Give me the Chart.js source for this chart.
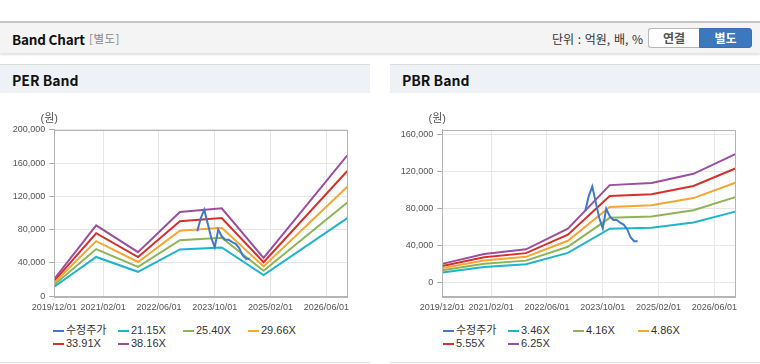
<!DOCTYPE html>
<html><head><meta charset="utf-8">
<script src="https://cdn.jsdelivr.net/npm/chart.js@4/dist/chart.umd.min.js"></script>
<style>
html,body{margin:0;padding:0;background:#fff;width:760px;height:364px;overflow:hidden;font-family:"Liberation Sans","Noto Sans CJK KR",sans-serif;}
#hdr{position:absolute;left:0;top:21px;width:760px;height:30px;background:#f4f4f4;border-top:2px solid #c4c4c4;box-shadow:0 2px 2px rgba(0,0,0,0.12);}
#title{position:absolute;left:12px;top:6px;font:bold 13.5px "Noto Sans CJK KR",sans-serif;color:#111;letter-spacing:-0.2px;}
#sub{position:absolute;left:89px;top:7px;font:11.5px "Noto Sans CJK KR",sans-serif;color:#888;letter-spacing:0.5px;}
#unit{position:absolute;left:552px;top:7px;font:12px "Noto Sans CJK KR",sans-serif;color:#333;word-spacing:1px;}
.btn{position:absolute;top:5px;height:18px;line-height:18px;text-align:center;font:bold 12px "Noto Sans CJK KR",sans-serif;}
#b1{left:648px;width:50px;background:#fff;border:1px solid #b8b8b8;border-right:none;border-radius:3px 0 0 3px;color:#555;}
#b2{left:699px;width:51px;background:#3b78bd;border:1px solid #3b6fae;border-radius:0 3px 3px 0;color:#fff;}
.panel{position:absolute;top:64px;width:370px;height:297px;border-top:1px solid #dcdcdc;border-bottom:1px solid #dcdcdc;}
.ph{position:absolute;left:0;top:0;width:370px;height:28px;background:#eef1f6;}
.pt{position:absolute;left:12px;top:5px;font:bold 14px "Noto Sans CJK KR",sans-serif;color:#111;}
.cw{position:absolute;left:0;top:36px;width:370px;height:220px;}
.lg{position:absolute;top:259px;display:grid;grid-template-columns:65px 65px 65px 65px;row-gap:0px;font:11px "Liberation Sans","Noto Sans CJK KR",sans-serif;color:#333;}
.li{height:13.3px;line-height:13.3px;white-space:nowrap;display:flex;align-items:center;}
.mk{display:inline-block;width:11px;height:2px;margin-right:2.5px;}
</style></head>
<body>
<div id="hdr">
  <div id="title">Band Chart</div>
  <div id="sub">[별도]</div>
  <div id="unit">단위 : 억원, 배, %</div>
  <div class="btn" id="b1">연결</div>
  <div class="btn" id="b2">별도</div>
</div>
<div class="panel" style="left:0">
  <div class="ph"><div class="pt">PER Band</div></div>
  <div class="cw"><canvas id="per" width="370" height="220"></canvas></div>
  <div class="lg" id="perLg" style="left:52.5px"></div>
</div>
<div class="panel" style="left:390px">
  <div class="ph"><div class="pt">PBR Band</div></div>
  <div class="cw"><canvas id="pbr" width="370" height="220"></canvas></div>
  <div class="lg" id="pbrLg" style="left:52.5px"></div>
</div>
<script>
// ---- data ----
const xTickLabels = ["2019/12/01","2021/02/01","2022/06/01","2023/10/01","2025/02/01","2026/06/01"];
const xStart = "2019/12", xEnd = "2026/12";

const priceName = "수정주가";
const priceMonths = ["2023/05","2023/06","2023/07","2023/08","2023/09","2023/10","2023/11","2023/12","2024/01","2024/02","2024/03","2024/04","2024/05","2024/06","2024/07","2024/08"];
const priceValues = [78000,94000,104000,87000,70000,59000,80000,72000,68000,68000,65000,63000,58000,49000,45000,45000];

const perMonths = ["2019/12","2020/12","2021/12","2022/12","2023/12","2024/12","2026/12"];
const perNames = ["21.15X","25.40X","29.66X","33.91X","38.16X"];
const per2115 = [11500,47200,29400,56200,58600,25500,93800];
const per2540 = [13800,56700,35300,67400,70400,30700,112600];
const per2966 = [16200,66200,41200,78700,82200,35800,131500];
const per3391 = [18500,75700,47100,90000,93900,40900,150400];
const per3816 = [20800,85200,53000,101300,105700,46100,169200];
const perYTicks = [0,40000,80000,120000,160000,200000];

const pbrMonths = ["2019/12","2020/12","2021/12","2022/12","2023/12","2024/12","2025/12","2026/12"];
const pbrNames = ["3.46X","4.16X","4.86X","5.55X","6.25X"];
const pbr346 = [11400,17300,20100,32400,58500,59700,65200,77000];
const pbr416 = [13700,20800,24100,39000,70300,71800,78400,92600];
const pbr486 = [16000,24300,28200,45500,82100,83800,91600,108100];
const pbr555 = [18300,27800,32200,52000,93800,95700,104600,123500];
const pbr625 = [20600,31300,36300,58600,105600,107800,117800,139100];
const pbrYTicks = [0,40000,80000,120000,160000];

const colors = ["#3f78cc","#1eb4c9","#8db454","#f5a532","#d6302b","#9a4f9e"];

// ---- helpers ----
function mIdx(s){const [y,m]=s.split("/").map(Number);return (y-2019)*12+(m-12);}
function pts(months,vals){return months.map((m,i)=>({x:mIdx(m),y:vals[i]}));}
const xTickVals = xTickLabels.map(l=>mIdx(l.slice(0,7)));

const framePlugin = {
  id:'frame',
  afterDraw(chart){
    const {ctx,chartArea:a}=chart;
    ctx.save();
    ctx.strokeStyle='#b4b4b4';ctx.lineWidth=1;
    ctx.strokeRect(Math.round(a.left)+0.5,Math.round(a.top)+0.5,Math.round(a.right-a.left),Math.round(a.bottom-a.top));
    ctx.fillStyle='#555';ctx.font='11px "Liberation Sans","Noto Sans CJK KR"';
    ctx.textAlign='center';ctx.textBaseline='middle';
    ctx.fillText('(원)',a.left-5,a.top-10.5);
    ctx.restore();
  }
};

function makeChart(id,bandMonths,bands,names,yMin,yMax,yTicks,axisW){
  const datasets=[{label:priceName,data:pts(priceMonths,priceValues),borderColor:colors[0],backgroundColor:colors[0]}];
  bands.forEach((b,i)=>datasets.push({label:names[i],data:pts(bandMonths,b),borderColor:colors[i+1],backgroundColor:colors[i+1]}));
  datasets[0].order=-1;
  const chart=new Chart(document.getElementById(id),{
    type:'line',
    data:{datasets},
    plugins:[framePlugin],
    options:{
      responsive:false,animation:false,
      layout:{padding:{left:0,right:370-axisW-293,top:28.7,bottom:0}},
      elements:{point:{radius:0},line:{borderWidth:2,tension:0}},
      plugins:{legend:{display:false},tooltip:{enabled:false}},
      scales:{
        x:{type:'linear',min:mIdx(xStart),max:mIdx(xEnd),
          afterBuildTicks(s){s.ticks=xTickVals.map(v=>({value:v}));},
          afterFit(s){s.height=220-28.7-166.6;},
          ticks:{autoSkip:false,maxRotation:0,padding:6,color:'#555',font:{family:'"Liberation Sans"',size:9},
            callback(v){const i=xTickVals.indexOf(v);return i>=0?xTickLabels[i]:'';}},
          grid:{color:'#e6e6e6',drawTicks:false},
          border:{color:'#b4b4b4'}},
        y:{type:'linear',min:yMin,max:yMax,
          afterBuildTicks(s){s.ticks=yTicks.map(v=>({value:v}));},
          afterFit(s){s.width=axisW;},
          ticks:{padding:4,color:'#555',font:{family:'"Liberation Sans"',size:9},
            callback(v){return v.toLocaleString('en-US');}},
          grid:{color:'#e6e6e6',tickColor:'#a8a8a8',tickLength:5},
          border:{color:'#b4b4b4'}}
      }
    }
  });
  return chart;
}

function legend(chart,elId){
  const el=document.getElementById(elId);
  chart.data.datasets.forEach(d=>{
    const it=document.createElement('div');it.className='li';
    const mk=document.createElement('span');mk.className='mk';mk.style.background=d.borderColor;
    const tx=document.createElement('span');tx.textContent=d.label;
    it.appendChild(mk);it.appendChild(tx);el.appendChild(it);
  });
}

const perChart=makeChart('per',perMonths,[per2115,per2540,per2966,per3391,per3816],perNames,0,200000,perYTicks,54.3);
const pbrChart=makeChart('pbr',pbrMonths,[pbr346,pbr416,pbr486,pbr555,pbr625],pbrNames,-14400,165400,pbrYTicks,52.3);
legend(perChart,'perLg');
legend(pbrChart,'pbrLg');
</script>
</body></html>
